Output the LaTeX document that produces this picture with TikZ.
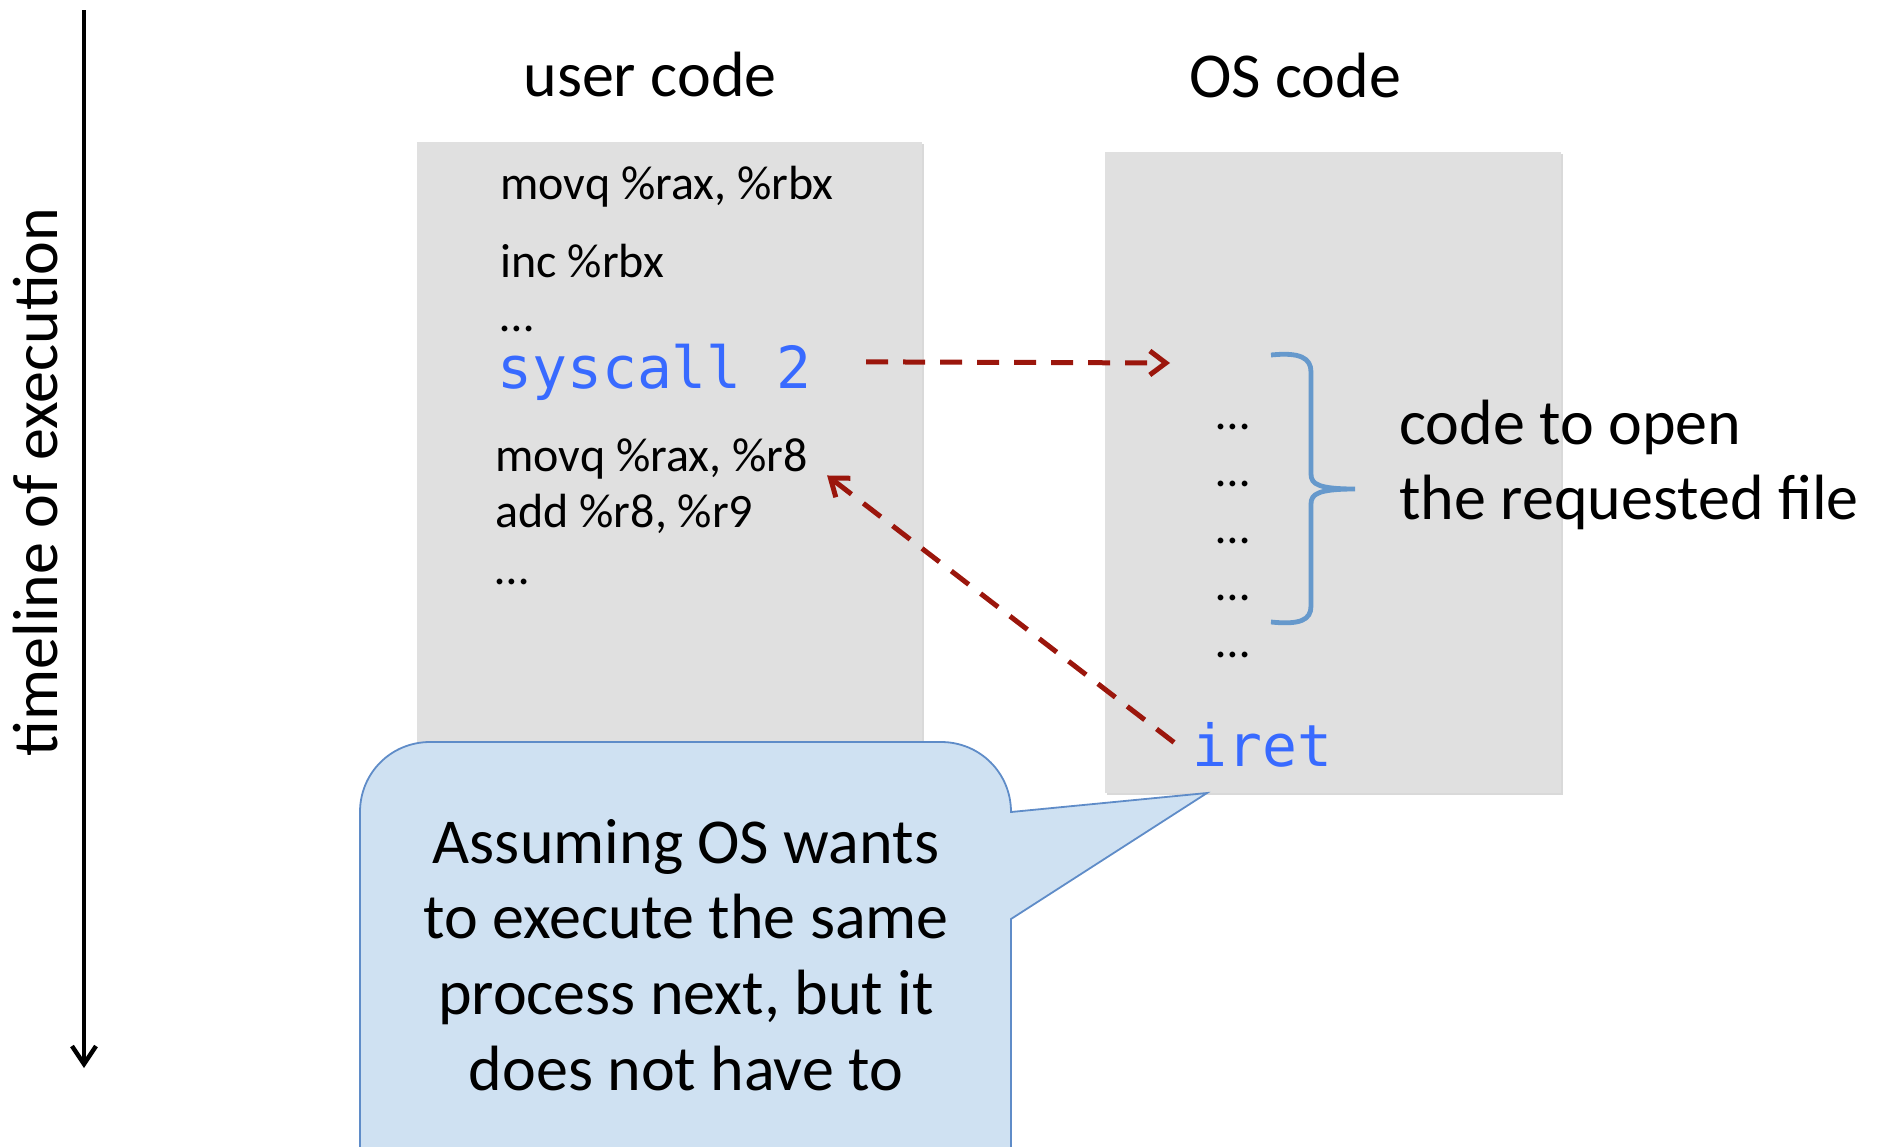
\documentclass[tikz,border=0pt]{standalone}
\usepackage{fontspec}
\setmainfont{Carlito}
\newfontfamily\codemono{DejaVu Sans Mono}
\usetikzlibrary{arrows.meta,shadows}
\definecolor{boxgray}{RGB}{224,224,224}
\definecolor{codeblue}{RGB}{56,106,255}
\definecolor{jumpred}{RGB}{155,22,12}
\definecolor{braceblue}{RGB}{102,153,204}
\definecolor{notefill}{RGB}{207,225,242}
\definecolor{noteline}{RGB}{95,140,200}

\begin{document}
\begin{tikzpicture}[x=0.5pt,y=0.5pt,yscale=-1,xscale=1,
  label/.style={font=\fontsize{32}{37.8}\selectfont, inner sep=0pt},
  asm/.style={font=\fontsize{24}{29}\selectfont, anchor=base west, inner sep=0pt},
  dots/.style={font=\fontsize{24}{29}\selectfont, anchor=base, inner sep=0pt},
  mono/.style={font=\codemono\fontsize{29}{34}\selectfont, text=codeblue, anchor=base west, inner sep=0pt},
  codebox/.style={fill=boxgray, drop shadow={shadow xshift=1.2pt, shadow yshift=-1.2pt, opacity=0.3}},
  jump/.style={draw=jumpred, line width=2.5pt, dash pattern=on 11pt off 7.5pt, -{Straight Barb[length=8pt,width=12pt]}},
  timeline/.style={draw=black, line width=2.2pt, -{Straight Barb[length=9pt,width=12pt]}},
  brace/.style={draw=braceblue, line width=2.4pt},
  note/.style={fill=notefill, draw=noteline, line width=0.9pt}
]
\useasboundingbox (0,0) rectangle (1883,1146);

%Shape: Rectangle [user code]
\fill [codebox] (417,142) rectangle (922,793) ;
%Shape: Rectangle [OS code]
\fill [codebox] (1105,152) rectangle (1561,793) ;

% Text Node
\node [label] (usrhd) at (650,75) {user code};
% Text Node
\node [label] (oshd) at (1295,75) {OS code};
% Text Node
\node [label, rotate=90] (tl) at (36,482) {timeline of execution};

% Text Node
\node [asm] (rbx) at (500,199) {movq \%rax, \%rbx};
\node [asm] (inc) at (500,277) {inc \%rbx};
\node [asm] (udots) at (500,331) {\dots};
\node [mono] (sys) at (497,388) {syscall 2};
\node [asm] (r8) at (495,471) {movq \%rax, \%r8};
\node [asm] (r9) at (495,527) {add \%r8, \%r9};
\node [asm] (tail) at (495,584) {\dots};

% Text Node
\foreach \k in {0,...,4}
  \node [dots] (dot\k) at (1233,429+57*\k) {\dots};
\node [mono] (iret) at (1192,766) {iret};

% Text Node
\node [label, align=left, anchor=west] (open) at (1399,465) {code to open\\the requested file};

%Straight Lines [timeline]
\coordinate (tstart) at (84,10);
\coordinate (tend) at (84,1068);
\draw [timeline] (tstart) -- (tend) ;

%Straight Lines [trap]
\coordinate (trap) at (1170,363);
\draw [jump] ([xshift=27pt,yshift=-5pt]sys.east) -- (trap) ;
%Straight Lines [return]
\draw [jump] ([xshift=-9pt,yshift=-1pt]iret.west) -- ([xshift=9.5pt,yshift=8.5pt]r8.east) ;

%Shape: Brace
\draw [brace] (1271,355) .. controls (1300,352) and (1311,358) .. (1311,372) -- (1311,474)
  .. controls (1311,484) and (1318,489) .. (1355,489)
  .. controls (1318,489) and (1311,494) .. (1311,504) -- (1311,606)
  .. controls (1311,620) and (1300,625) .. (1271,622) ;

%Shape: Callout
\draw [note] (360,1160) -- (360,812) .. controls (360,773) and (391,742) .. (430,742) -- (941,742)
  .. controls (980,742) and (1011,773) .. (1011,812) -- (1207,793) -- (1011,919) -- (1011,1160) -- cycle ;
% Text Node
\node [label, align=center] (hint) at (686,955) {Assuming OS wants\\to execute the same\\process next, but it\\does not have to};

\end{tikzpicture}
\end{document}
